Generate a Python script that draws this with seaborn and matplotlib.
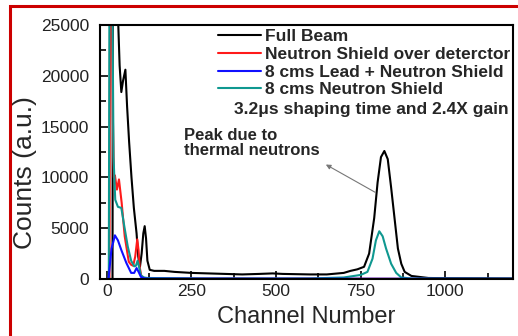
import numpy as np
import pandas as pd
import seaborn as sns
import matplotlib.pyplot as plt
from matplotlib.patches import Rectangle

# valores (canal, contagens)
full_ch = [0, 17, 18, 30, 34, 38, 43, 48, 55, 60, 66, 73, 80, 88, 93, 98, 103, 108, 112, 116, 120,
           127, 140, 170, 200, 250, 300, 350, 400, 450, 490, 520, 600, 650, 700, 720, 740, 760, 775,
           790, 800, 810, 820, 830, 840, 850, 860, 870, 880, 900, 950, 1000, 1200]
full_cnt = [0, 0, 30000, 30000, 25000, 21000, 18400, 19500, 20600, 17000, 13500, 10000, 7000, 4500,
            2200, 1200, 2500, 4500, 5200, 4000, 1800, 900, 800, 800, 700, 600, 550, 500, 450, 500,
            550, 500, 450, 450, 600, 800, 950, 1200, 2500, 6000, 9500, 12000, 12600, 11800, 9000,
            6000, 3000, 1500, 700, 300, 100, 80, 50]

red_ch = [0, 8, 10, 14, 18, 21, 24, 30, 36, 44, 53, 65, 72, 78, 84, 90, 94, 97, 102, 110, 130, 1200]
red_cnt = [0, 0, 30000, 30000, 16000, 10000, 10200, 8800, 9800, 7500, 4200, 1700, 1400, 1300, 2200,
           3900, 2800, 1200, 300, 100, 50, 0]

teal_ch = [0, 6, 8, 16, 20, 25, 33, 43, 52, 62, 72, 81, 86, 91, 96, 101, 110, 120, 300, 600, 700,
           750, 770, 785, 795, 805, 815, 825, 840, 855, 870, 900, 1200]
teal_cnt = [0, 0, 30000, 30000, 12000, 7800, 7100, 7000, 5150, 3200, 1800, 1250, 1300, 1800, 1100,
            350, 150, 100, 50, 50, 150, 400, 700, 2000, 3800, 4700, 4200, 3000, 1500, 600, 150, 50, 30]

blue_ch = [0, 5, 14, 19, 24, 33, 43, 58, 72, 81, 88, 94, 101, 110, 120, 1200]
blue_cnt = [0, 0, 3000, 3600, 4300, 3800, 2850, 1570, 600, 600, 1080, 700, 200, 80, 40, 20]

series_names = ['Full Beam', 'Neutron Shield over deterctor',
                '8 cms Lead + Neutron Shield', '8 cms Neutron Shield']
cores = {'Full Beam': '#000000', 'Neutron Shield over deterctor': '#ff1a1a',
         '8 cms Lead + Neutron Shield': '#1010ff', '8 cms Neutron Shield': '#0f9890'}

x_ticks = [0, 250, 500, 750, 1000]
y_ticks = [0, 5000, 10000, 15000, 20000, 25000]

dados = pd.concat([
    pd.DataFrame({'canal': full_ch, 'contagens': full_cnt, 'serie': series_names[0]}),
    pd.DataFrame({'canal': red_ch, 'contagens': red_cnt, 'serie': series_names[1]}),
    pd.DataFrame({'canal': blue_ch, 'contagens': blue_cnt, 'serie': series_names[2]}),
    pd.DataFrame({'canal': teal_ch, 'contagens': teal_cnt, 'serie': series_names[3]}),
], ignore_index=True)

sns.set_style('ticks')
plt.rcParams['font.family'] = ['Liberation Sans', 'DejaVu Sans']

fig = plt.figure(figsize=(5.18, 3.36), dpi=100)
ax = fig.add_axes([100/518, 1-279/336, 413/518, 254/336])

# desenha na ordem: preto, vermelho, verde, azul por cima
ordem_desenho = [series_names[0], series_names[1], series_names[3], series_names[2]]
for nome in ordem_desenho:
    sns.lineplot(data=dados[dados.serie == nome], x='canal', y='contagens', color=cores[nome],
                 lw=1.5, estimator=None, sort=False, ax=ax, label=nome, legend=False)

ax.set_xlim(-20, 1200)
ax.set_ylim(0, 25000)
ax.set_xticks(x_ticks)
ax.set_yticks(y_ticks)
ax.set_xticks(np.arange(125, 1200, 250), minor=True)
ax.set_yticks(np.arange(2500, 25000, 5000), minor=True)
ax.tick_params(which='both', direction='in', width=1.2, colors='black', labelcolor='#222222',
               labelsize=12.5, top=False, right=False)
ax.tick_params(which='major', length=6)
ax.tick_params(which='minor', length=4)
ax.tick_params(axis='y', pad=8)
for s in ax.spines.values():
    s.set_linewidth(1.5)
    s.set_color('black')
ax.set_xlabel('Channel Number', fontsize=17, labelpad=5)
ax.set_ylabel('Counts (a.u.)', fontsize=19)
ax.yaxis.set_label_coords(-0.152, 0.42)

handles = [plt.Line2D([], [], color=cores[n], lw=1.5) for n in series_names]
leg = fig.legend(handles, series_names, loc='upper left', bbox_to_anchor=(218/518, 1-29/336),
                 frameon=False, borderpad=0, borderaxespad=0, handlelength=2.5,
                 handletextpad=0.2, labelspacing=0.15, prop={'weight': 'bold', 'size': 12.5})

fig.text(509/518, 1-110/336, '3.2\u03bcs shaping time and 2.4X gain', ha='right', va='center',
         fontsize=12.5, fontweight='bold')

ax.annotate('Peak due to\nthermal neutrons', xy=(640, 11400), xytext=(228, 13400),
            fontsize=12, fontweight='bold', ha='left', va='center', linespacing=1.05)
ax.annotate('', xy=(640, 11400), xytext=(800, 8400),
            arrowprops=dict(arrowstyle='-|>', color='#777777', lw=0.8, mutation_scale=7))

# moldura vermelha
fig.patches.append(Rectangle((10/518, -0.2), 1.3, 1.2 - 6/336, transform=fig.transFigure,
                             fill=False, edgecolor='#cc0000', lw=2.2, clip_on=False))

fig.savefig('out.png', dpi=100)
